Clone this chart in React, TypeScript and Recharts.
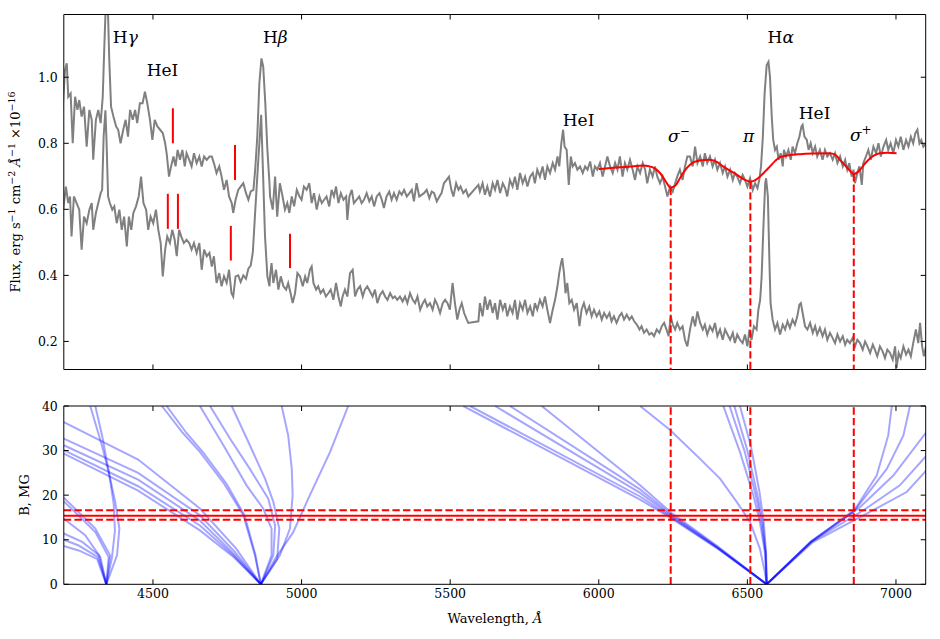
import React from 'react';
import { ComposedChart, Line, XAxis, YAxis, ReferenceLine, Scatter } from 'recharts';

const FONT = '"DejaVu Serif", serif';
const waveDomain = [4200, 7100];
const waveTicks = [4500, 5000, 5500, 6000, 6500, 7000];
const fluxDomain = [0.115, 1.19];
const fluxTicks = [0.2, 0.4, 0.6, 0.8, 1.0];
const fieldTicks = [0, 10, 20, 30, 40];

// upper spectrum, [wavelength, flux]
const upperSpectrum: [number, number][] = [
    [4196, 0.901], [4204, 1.022], [4210, 1.042], [4215, 0.941], [4223, 0.951], [4230, 0.80], [4238, 0.941], [4246, 0.901],
    [4252, 0.931], [4260, 0.881], [4268, 0.911], [4277, 0.790], [4286, 0.901], [4294, 0.871], [4299, 0.750], [4308, 0.871],
    [4316, 0.901], [4324, 0.861], [4331, 0.941], [4336, 1.083], [4342, 1.24], [4348, 1.22], [4353, 1.052], [4359, 0.911],
    [4367, 0.881], [4376, 0.851], [4383, 0.841], [4391, 0.80], [4400, 0.841], [4408, 0.871], [4416, 0.82], [4423, 0.901],
    [4432, 0.871], [4440, 0.901], [4447, 0.861], [4456, 0.921], [4465, 0.921], [4473, 0.956], [4481, 0.921], [4490, 0.871],
    [4498, 0.81], [4506, 0.871], [4515, 0.851], [4524, 0.841], [4533, 0.831], [4541, 0.80], [4546, 0.77], [4554, 0.699],
    [4561, 0.730], [4569, 0.760], [4576, 0.730], [4583, 0.780], [4591, 0.750], [4599, 0.780], [4607, 0.730], [4613, 0.770],
    [4622, 0.750], [4630, 0.730], [4638, 0.770], [4647, 0.740], [4656, 0.760], [4664, 0.730], [4672, 0.760], [4681, 0.750],
    [4690, 0.760], [4698, 0.760], [4705, 0.740], [4714, 0.710], [4723, 0.730], [4731, 0.699], [4739, 0.659], [4748, 0.689],
    [4756, 0.639], [4765, 0.619], [4770, 0.589], [4778, 0.629], [4787, 0.659], [4795, 0.669], [4804, 0.679], [4813, 0.649],
    [4821, 0.629], [4829, 0.654], [4838, 0.659], [4844, 0.720], [4851, 0.820], [4858, 0.982], [4865, 1.057], [4871, 1.032],
    [4878, 0.921], [4885, 0.780], [4892, 0.679], [4894, 0.639], [4903, 0.599], [4911, 0.699], [4918, 0.578], [4927, 0.679],
    [4936, 0.639], [4944, 0.599], [4952, 0.619], [4959, 0.589], [4967, 0.639], [4975, 0.609], [4984, 0.659], [4993, 0.639],
    [5000, 0.629], [5008, 0.669], [5017, 0.659], [5026, 0.679], [5034, 0.619], [5042, 0.649], [5051, 0.599], [5060, 0.639],
    [5068, 0.619], [5076, 0.629], [5084, 0.639], [5093, 0.609], [5101, 0.659], [5109, 0.639], [5116, 0.669], [5124, 0.619],
    [5132, 0.649], [5141, 0.629], [5150, 0.639], [5154, 0.568], [5161, 0.639], [5169, 0.659], [5176, 0.619], [5185, 0.629],
    [5194, 0.639], [5202, 0.619], [5210, 0.629], [5219, 0.649], [5228, 0.624], [5236, 0.639], [5244, 0.609], [5253, 0.639],
    [5262, 0.649], [5270, 0.629], [5277, 0.604], [5286, 0.639], [5295, 0.654], [5303, 0.629], [5311, 0.649], [5320, 0.629],
    [5329, 0.654], [5337, 0.644], [5345, 0.659], [5354, 0.639], [5363, 0.649], [5371, 0.659], [5378, 0.624], [5387, 0.679],
    [5396, 0.639], [5404, 0.644], [5412, 0.649], [5421, 0.659], [5430, 0.634], [5438, 0.654], [5446, 0.649], [5455, 0.624],
    [5464, 0.639], [5471, 0.649], [5479, 0.679], [5488, 0.689], [5496, 0.699], [5504, 0.659], [5511, 0.639], [5520, 0.679],
    [5528, 0.659], [5535, 0.669], [5544, 0.649], [5553, 0.659], [5561, 0.639], [5595, 0.674], [5600, 0.654], [5609, 0.679],
    [5617, 0.644], [5625, 0.669], [5634, 0.639], [5643, 0.679], [5651, 0.659], [5659, 0.689], [5668, 0.649], [5677, 0.679],
    [5685, 0.664], [5692, 0.639], [5701, 0.689], [5710, 0.669], [5718, 0.699], [5726, 0.659], [5735, 0.710], [5744, 0.679],
    [5752, 0.699], [5760, 0.669], [5769, 0.699], [5778, 0.710], [5785, 0.679], [5793, 0.720], [5802, 0.699], [5811, 0.730],
    [5819, 0.689], [5827, 0.730], [5836, 0.710], [5845, 0.740], [5853, 0.720], [5861, 0.760], [5867, 0.730], [5874, 0.80],
    [5880, 0.841], [5885, 0.790], [5892, 0.780], [5899, 0.674], [5906, 0.760], [5912, 0.730], [5920, 0.740], [5928, 0.720],
    [5937, 0.730], [5946, 0.710], [5954, 0.730], [5962, 0.720], [5971, 0.745], [5980, 0.699], [5987, 0.730], [5995, 0.720],
    [6004, 0.740], [6013, 0.699], [6021, 0.730], [6029, 0.760], [6038, 0.730], [6047, 0.710], [6055, 0.740], [6063, 0.720],
    [6071, 0.760], [6080, 0.699], [6088, 0.740], [6096, 0.720], [6105, 0.750], [6114, 0.720], [6122, 0.689], [6130, 0.730],
    [6139, 0.710], [6148, 0.740], [6156, 0.720], [6163, 0.679], [6172, 0.720], [6181, 0.699], [6189, 0.730], [6197, 0.699],
    [6206, 0.679], [6215, 0.699], [6223, 0.669], [6231, 0.639], [6240, 0.669], [6249, 0.654], [6257, 0.679], [6264, 0.699],
    [6273, 0.720], [6282, 0.689], [6290, 0.730], [6298, 0.760], [6307, 0.760], [6316, 0.730], [6324, 0.790], [6332, 0.740],
    [6341, 0.760], [6350, 0.730], [6357, 0.770], [6365, 0.740], [6374, 0.760], [6383, 0.730], [6391, 0.750], [6399, 0.720],
    [6408, 0.740], [6417, 0.710], [6425, 0.730], [6433, 0.699], [6442, 0.720], [6451, 0.689], [6458, 0.710], [6466, 0.699],
    [6475, 0.679], [6484, 0.704], [6492, 0.689], [6500, 0.669], [6509, 0.694], [6518, 0.659], [6526, 0.679], [6534, 0.664],
    [6540, 0.689], [6546, 0.730], [6552, 0.820], [6558, 0.951], [6565, 1.037], [6571, 1.047], [6576, 1.002], [6582, 0.881],
    [6587, 0.810], [6593, 0.780], [6599, 0.790], [6605, 0.750], [6612, 0.770], [6619, 0.730], [6623, 0.780], [6630, 0.760],
    [6638, 0.780], [6646, 0.750], [6652, 0.790], [6660, 0.770], [6668, 0.80], [6675, 0.820], [6682, 0.851], [6686, 0.856],
    [6692, 0.820], [6700, 0.810], [6706, 0.780], [6713, 0.80], [6720, 0.770], [6728, 0.790], [6735, 0.760], [6744, 0.780],
    [6753, 0.750], [6761, 0.780], [6769, 0.760], [6778, 0.770], [6787, 0.750], [6795, 0.770], [6803, 0.740], [6812, 0.760],
    [6821, 0.730], [6829, 0.750], [6836, 0.720], [6843, 0.740], [6851, 0.699], [6857, 0.720], [6862, 0.679], [6870, 0.710],
    [6877, 0.730], [6885, 0.674], [6890, 0.740], [6899, 0.760], [6907, 0.780], [6915, 0.750], [6924, 0.790], [6933, 0.770],
    [6941, 0.80], [6949, 0.760], [6958, 0.790], [6967, 0.810], [6974, 0.780], [6982, 0.80], [6991, 0.770], [7000, 0.810],
    [7008, 0.790], [7016, 0.820], [7025, 0.780], [7034, 0.810], [7042, 0.790], [7050, 0.820], [7058, 0.80], [7065, 0.830],
    [7072, 0.841], [7079, 0.80], [7085, 0.810], [7092, 0.790], [7101, 0.80],
];

// lower spectrum, [wavelength, flux]
const lowerSpectrum: [number, number][] = [
    [4198, 0.599], [4207, 0.669], [4215, 0.619], [4221, 0.639], [4226, 0.518], [4234, 0.639], [4243, 0.619], [4252, 0.599],
    [4260, 0.478], [4268, 0.578], [4277, 0.558], [4286, 0.599], [4294, 0.619], [4299, 0.538], [4308, 0.589], [4316, 0.619],
    [4324, 0.649], [4329, 0.659], [4334, 0.820], [4340, 0.90], [4344, 0.80], [4349, 0.639], [4355, 0.619], [4363, 0.599],
    [4370, 0.609], [4378, 0.558], [4387, 0.599], [4395, 0.538], [4403, 0.578], [4412, 0.488], [4419, 0.578], [4427, 0.538],
    [4434, 0.589], [4443, 0.609], [4452, 0.639], [4460, 0.699], [4468, 0.619], [4477, 0.599], [4484, 0.538], [4492, 0.578],
    [4501, 0.558], [4510, 0.599], [4518, 0.538], [4526, 0.498], [4533, 0.397], [4541, 0.478], [4548, 0.518], [4557, 0.498],
    [4565, 0.538], [4573, 0.508], [4580, 0.458], [4588, 0.538], [4595, 0.518], [4604, 0.498], [4613, 0.508], [4622, 0.498],
    [4630, 0.478], [4638, 0.498], [4647, 0.468], [4656, 0.498], [4664, 0.417], [4672, 0.478], [4681, 0.458], [4690, 0.468],
    [4698, 0.427], [4705, 0.458], [4714, 0.377], [4723, 0.407], [4731, 0.367], [4739, 0.397], [4748, 0.377], [4756, 0.417],
    [4764, 0.347], [4770, 0.336], [4778, 0.397], [4787, 0.40], [4795, 0.38], [4804, 0.40], [4813, 0.39], [4821, 0.42],
    [4829, 0.43], [4836, 0.47], [4843, 0.578], [4851, 0.699], [4858, 0.80], [4864, 0.886], [4870, 0.720], [4877, 0.518],
    [4885, 0.397], [4892, 0.367], [4894, 0.397], [4899, 0.437], [4905, 0.377], [4914, 0.417], [4922, 0.357], [4930, 0.397],
    [4939, 0.367], [4948, 0.357], [4955, 0.377], [4963, 0.346], [4970, 0.316], [4978, 0.346], [4986, 0.407], [4995, 0.397],
    [5004, 0.367], [5012, 0.397], [5019, 0.377], [5028, 0.417], [5034, 0.427], [5040, 0.377], [5049, 0.357], [5056, 0.367],
    [5064, 0.346], [5073, 0.357], [5082, 0.336], [5090, 0.346], [5098, 0.357], [5107, 0.326], [5116, 0.377], [5124, 0.336],
    [5132, 0.306], [5138, 0.336], [5146, 0.357], [5154, 0.336], [5163, 0.407], [5172, 0.417], [5180, 0.336], [5188, 0.357],
    [5197, 0.367], [5206, 0.336], [5213, 0.357], [5221, 0.367], [5230, 0.352], [5239, 0.336], [5247, 0.357], [5255, 0.316],
    [5264, 0.341], [5273, 0.352], [5281, 0.336], [5289, 0.326], [5298, 0.346], [5307, 0.331], [5314, 0.336], [5322, 0.326],
    [5331, 0.336], [5340, 0.321], [5348, 0.336], [5356, 0.316], [5365, 0.346], [5374, 0.326], [5382, 0.316], [5390, 0.336],
    [5399, 0.296], [5408, 0.316], [5415, 0.326], [5423, 0.306], [5432, 0.316], [5441, 0.296], [5449, 0.326], [5457, 0.311],
    [5466, 0.286], [5475, 0.316], [5483, 0.326], [5491, 0.316], [5499, 0.296], [5508, 0.377], [5516, 0.316], [5524, 0.266],
    [5531, 0.296], [5539, 0.316], [5547, 0.286], [5556, 0.266], [5561, 0.256], [5595, 0.261], [5600, 0.316], [5609, 0.276],
    [5617, 0.336], [5625, 0.296], [5634, 0.326], [5643, 0.286], [5651, 0.316], [5659, 0.266], [5668, 0.326], [5677, 0.296],
    [5685, 0.316], [5692, 0.276], [5701, 0.306], [5710, 0.286], [5718, 0.326], [5726, 0.266], [5735, 0.316], [5744, 0.296],
    [5752, 0.326], [5760, 0.286], [5769, 0.306], [5778, 0.276], [5785, 0.316], [5793, 0.296], [5802, 0.326], [5811, 0.306],
    [5819, 0.336], [5827, 0.296], [5836, 0.256], [5845, 0.296], [5853, 0.326], [5861, 0.367], [5867, 0.407], [5873, 0.437],
    [5877, 0.452], [5883, 0.407], [5888, 0.346], [5894, 0.377], [5901, 0.316], [5909, 0.326], [5917, 0.296], [5926, 0.316],
    [5935, 0.246], [5942, 0.296], [5950, 0.316], [5959, 0.286], [5968, 0.306], [5976, 0.276], [5984, 0.296], [5993, 0.276],
    [6002, 0.291], [6010, 0.266], [6018, 0.286], [6027, 0.271], [6036, 0.286], [6043, 0.261], [6051, 0.276], [6060, 0.256],
    [6069, 0.276], [6077, 0.286], [6085, 0.266], [6094, 0.281], [6103, 0.266], [6111, 0.276], [6119, 0.261], [6128, 0.251],
    [6137, 0.236], [6144, 0.246], [6152, 0.226], [6161, 0.236], [6170, 0.221], [6178, 0.226], [6186, 0.216], [6195, 0.236],
    [6204, 0.226], [6212, 0.246], [6220, 0.256], [6228, 0.236], [6235, 0.216], [6242, 0.276], [6249, 0.251], [6257, 0.236],
    [6264, 0.256], [6273, 0.236], [6282, 0.246], [6290, 0.205], [6298, 0.185], [6307, 0.236], [6316, 0.276], [6324, 0.246],
    [6332, 0.291], [6341, 0.256], [6350, 0.236], [6357, 0.251], [6365, 0.221], [6374, 0.246], [6383, 0.231], [6391, 0.256],
    [6399, 0.216], [6408, 0.236], [6417, 0.205], [6425, 0.236], [6433, 0.221], [6442, 0.205], [6451, 0.226], [6458, 0.195],
    [6466, 0.221], [6475, 0.205], [6484, 0.195], [6492, 0.221], [6500, 0.185], [6507, 0.236], [6514, 0.205], [6522, 0.246],
    [6531, 0.236], [6537, 0.296], [6543, 0.326], [6548, 0.397], [6554, 0.548], [6560, 0.679], [6563, 0.694], [6569, 0.639],
    [6574, 0.447], [6578, 0.316], [6585, 0.266], [6593, 0.236], [6601, 0.256], [6610, 0.221], [6619, 0.251], [6627, 0.236],
    [6635, 0.261], [6643, 0.241], [6652, 0.266], [6660, 0.251], [6668, 0.276], [6675, 0.311], [6680, 0.316], [6686, 0.286],
    [6694, 0.246], [6702, 0.236], [6711, 0.256], [6720, 0.226], [6728, 0.246], [6735, 0.221], [6744, 0.241], [6753, 0.216],
    [6761, 0.236], [6769, 0.205], [6778, 0.226], [6787, 0.210], [6795, 0.195], [6803, 0.221], [6812, 0.200], [6821, 0.216],
    [6829, 0.190], [6836, 0.205], [6845, 0.195], [6854, 0.210], [6862, 0.185], [6870, 0.205], [6879, 0.195], [6888, 0.175],
    [6896, 0.200], [6904, 0.185], [6913, 0.165], [6922, 0.190], [6929, 0.175], [6937, 0.155], [6946, 0.185], [6955, 0.170],
    [6963, 0.150], [6971, 0.175], [6980, 0.165], [6989, 0.145], [6997, 0.185], [7002, 0.120], [7009, 0.165], [7016, 0.150],
    [7025, 0.185], [7034, 0.160], [7042, 0.175], [7050, 0.155], [7058, 0.195], [7067, 0.236], [7075, 0.195], [7081, 0.256],
    [7088, 0.185], [7094, 0.155], [7101, 0.185],
];

// red model fit over the upper spectrum
const zeemanFit: [number, number][] = [
    [6000, 0.722], [6050, 0.726], [6100, 0.729], [6150, 0.733], [6180, 0.728], [6206, 0.71], [6225, 0.685], [6242, 0.666],
    [6258, 0.672], [6273, 0.694], [6290, 0.718], [6307, 0.735], [6340, 0.748], [6374, 0.750], [6400, 0.742], [6418, 0.730],
    [6440, 0.718], [6464, 0.705], [6490, 0.690], [6510, 0.684], [6525, 0.688], [6542, 0.699], [6560, 0.715], [6576, 0.73],
    [6593, 0.746], [6610, 0.758], [6640, 0.764], [6677, 0.767], [6720, 0.769], [6778, 0.770], [6800, 0.762], [6811, 0.75],
    [6825, 0.737], [6840, 0.722], [6858, 0.707], [6870, 0.712], [6879, 0.72], [6895, 0.738], [6913, 0.755], [6930, 0.765],
    [6946, 0.770], [6970, 0.771], [7002, 0.770],
];

// Zeeman components: wavelength and fitted depth
const componentWaves = [6242, 6510, 6858];
const componentDepths = [0.666, 0.684, 0.707];

// short red markers: wavelength, flux bottom, flux top
const markerWaves = [4567, 4776, 4550, 4584, 4762, 4961];
const markerLows = [0.80, 0.689, 0.541, 0.541, 0.445, 0.422];
const markerHighs = [0.906, 0.795, 0.647, 0.647, 0.550, 0.526];

// line identifications
const lineLabels = [
    { x: 4365, y: 1.103, main: 'H', greek: 'γ', sup: '' },
    { x: 4479, y: 1.004, main: 'HeI', greek: '', sup: '' },
    { x: 4870, y: 1.103, main: 'H', greek: 'β', sup: '' },
    { x: 5879, y: 0.853, main: 'HeI', greek: '', sup: '' },
    { x: 6233, y: 0.805, main: '', greek: 'σ', sup: '−' },
    { x: 6485, y: 0.803, main: '', greek: 'π', sup: '' },
    { x: 6568, y: 1.103, main: 'H', greek: 'α', sup: '' },
    { x: 6673, y: 0.873, main: 'HeI', greek: '', sup: '' },
    { x: 6845, y: 0.807, main: '', greek: 'σ', sup: '+' },
];

// field strength band
const fieldBest = 15.4;
const fieldLow = 14.5;
const fieldHigh = 16.6;

// hydrogen Zeeman tracks, [wavelength, B in MG]
const hGammaTracks: [number, number][][] = [
    [[4343, 0], [4312, 5.7], [4250, 7.6], [4200, 8.6]],
    [[4343, 0], [4315, 6.1], [4250, 8.7], [4200, 10.0]],
    [[4343, 0], [4318, 6.5], [4262, 9.5], [4200, 11.4]],
    [[4343, 0], [4323, 6.1], [4272, 11.0], [4200, 14.7]],
    [[4343, 0], [4356, 6.5], [4306, 12.5], [4250, 16.2], [4200, 19.4]],
    [[4343, 0], [4351, 6.1], [4306, 11.7], [4261, 14.7], [4200, 18.6]],
    [[4343, 0], [4379, 6.5], [4387, 12.5], [4373, 18.5], [4351, 25.2], [4328, 31.2], [4289, 40]],
    [[4343, 0], [4362, 6], [4372, 12], [4368, 18], [4352, 25], [4330, 33], [4306, 40]],
];

const hBetaTracks: [number, number][][] = [
    [[4863, 0], [4770, 6.2], [4658, 12.1], [4450, 21], [4200, 29.3]],
    [[4863, 0], [4770, 6.5], [4658, 13.2], [4450, 22], [4200, 30.1]],
    [[4863, 0], [4772, 6.8], [4658, 14.3], [4450, 23.5], [4200, 31.2]],
    [[4863, 0], [4775, 7.3], [4658, 15.5], [4450, 25], [4200, 32.7]],
    [[4863, 0], [4780, 8], [4658, 17], [4450, 28], [4200, 36.4]],
    [[4863, 0], [4843, 6.5], [4804, 15.5], [4740, 22.5], [4658, 29.7], [4600, 34], [4530, 40]],
    [[4863, 0], [4845, 6.5], [4808, 15.5], [4748, 22.5], [4670, 29.5], [4612, 34], [4546, 40]],
    [[4863, 0], [4899, 6.5], [4899, 12.5], [4871, 17], [4815, 22.2], [4737, 31.2], [4658, 40]],
    [[4863, 0], [4905, 6.5], [4911, 13.2], [4888, 19.2], [4826, 25.9], [4759, 32.7], [4692, 40]],
    [[4863, 0], [4918, 5.7], [4925, 12.5], [4905, 18.5], [4877, 23.7], [4826, 31.2], [4765, 40]],
    [[4863, 0], [4927, 6.5], [4961, 12.5], [4970, 20], [4967, 25.9], [4955, 33.4], [4933, 40]],
    [[4863, 0], [4911, 5.7], [4972, 11.7], [5028, 20], [5096, 29.7], [5157, 40]],
];

const hAlphaTracks: [number, number][][] = [
    [[6565, 0], [6400, 8.0], [6245, 14.8], [6139, 19.0], [5544, 40]],
    [[6565, 0], [6400, 8.1], [6245, 15.0], [6139, 19.7], [5567, 40]],
    [[6565, 0], [6400, 8.2], [6245, 15.3], [6139, 20.5], [5651, 40]],
    [[6565, 0], [6400, 8.3], [6245, 15.6], [6139, 21.3], [5701, 40]],
    [[6565, 0], [6400, 8.5], [6245, 16.0], [6139, 22.2], [5808, 40]],
    [[6565, 0], [6558, 3], [6542, 8], [6509, 14], [6464, 18.5], [6408, 23.7], [6340, 28.2], [6240, 34.6], [6139, 40]],
    [[6565, 0], [6559, 7.2], [6542, 14], [6520, 20], [6475, 29.7], [6419, 40]],
    [[6565, 0], [6561, 7], [6547, 14], [6528, 20], [6490, 30], [6440, 40]],
    [[6565, 0], [6562, 7], [6551, 14], [6534, 20], [6500, 30], [6456, 40]],
    [[6565, 0], [6563, 7], [6555, 14], [6540, 21], [6512, 31], [6475, 40]],
    [[6565, 0], [6711, 9.3], [6856, 16.2], [6935, 24.4], [6974, 33.4], [6986, 40]],
    [[6565, 0], [6713, 9.5], [6866, 17], [6969, 25.9], [7025, 33.4], [7047, 40]],
    [[6565, 0], [6715, 9.7], [6877, 17.2], [6991, 24.4], [7103, 34.2]],
    [[6565, 0], [6717, 9.6], [6888, 16.5], [7013, 22.2], [7103, 28.9]],
    [[6565, 0], [6719, 9.4], [6900, 15.8], [7036, 20.7], [7103, 25.6]],
];

const toPts = (arr: [number, number][]) => arr.map(([x, y]) => ({ x, y }));

const TICK = 5;
const tickText = { fontFamily: FONT, fontSize: 12.5, fill: '#000' };

// ticks point inwards, like matplotlib's classic style
const bottomTick = (labels: boolean) => (props: any) => {
    const { x, y, payload } = props;
    return (
        <g>
            <line x1={x} y1={y} x2={x} y2={y - TICK} stroke="#000" />
            {labels && <text x={x} y={y + 14} textAnchor="middle" {...tickText}>{payload.value}</text>}
        </g>
    );
};
const topTick = (props: any) => {
    const { x, y } = props;
    return <line x1={x} y1={y} x2={x} y2={y + TICK} stroke="#000" />;
};
const leftTick = (fmt: (v: number) => string) => (props: any) => {
    const { x, y, payload } = props;
    return (
        <g>
            <line x1={x} y1={y} x2={x + TICK} y2={y} stroke="#000" />
            <text x={x - 6} y={y + 4.5} textAnchor="end" {...tickText}>{fmt(payload.value)}</text>
        </g>
    );
};
const rightTick = (props: any) => {
    const { x, y } = props;
    return <line x1={x} y1={y} x2={x - TICK} y2={y} stroke="#000" />;
};

const LabelShape = (props: any) => {
    const { cx, cy, payload } = props;
    return (
        <text x={cx} y={cy} fontFamily={FONT} fontSize={17} fill="#000">
            {payload.main && <tspan>{payload.main}</tspan>}
            {payload.greek && <tspan fontStyle="italic">{payload.greek}</tspan>}
            {payload.sup && <tspan dy={-7} fontSize={12}>{payload.sup}</tspan>}
        </text>
    );
};

const axisLine = { stroke: '#000', strokeWidth: 1 };

// axes are 1px thick, so the margins below are one pixel short of the plot edges
const Frame = (yTicks: number[], yDomain: number[], fmt: (v: number) => string, xLabels: boolean) => [
    <XAxis key="xb" xAxisId={0} dataKey="x" type="number" domain={waveDomain} allowDataOverflow ticks={waveTicks}
        interval={0} height={1} tickSize={0} tickMargin={0} tickLine={false} axisLine={axisLine} tick={bottomTick(xLabels)} />,
    <XAxis key="xt" xAxisId="top" orientation="top" dataKey="x" type="number" domain={waveDomain} allowDataOverflow
        ticks={waveTicks} interval={0} height={1} tickSize={0} tickMargin={0} tickLine={false} axisLine={axisLine} tick={topTick} />,
    <YAxis key="yl" yAxisId={0} dataKey="y" type="number" domain={yDomain} allowDataOverflow ticks={yTicks} interval={0}
        width={1} tickSize={0} tickMargin={0} tickLine={false} axisLine={axisLine} tick={leftTick(fmt)} />,
    <YAxis key="yr" yAxisId="right" orientation="right" dataKey="y" type="number" domain={yDomain} allowDataOverflow
        ticks={yTicks} interval={0} width={1} tickSize={0} tickMargin={0} tickLine={false} axisLine={axisLine} tick={rightTick} />,
];

const dash = '7.4 3.2';

export default function App() {
    return (
        <div style={{ position: 'absolute', left: 0, top: 0, width: 940, height: 639, background: '#fff' }}>
            <div style={{ position: 'absolute', left: 0, top: 0 }}>
                <ComposedChart width={940} height={380} margin={{ top: 13.5, right: 13.3, bottom: 9.5, left: 62.8 }}>
                    {Frame(fluxTicks, fluxDomain, (v) => v.toFixed(1), false)}
                    <Line data={toPts(upperSpectrum)} dataKey="y" stroke="#808080" strokeWidth={2} dot={false}
                        isAnimationActive={false} />
                    <Line data={toPts(lowerSpectrum)} dataKey="y" stroke="#808080" strokeWidth={2} dot={false}
                        isAnimationActive={false} />
                    <Line data={toPts(zeemanFit)} dataKey="y" stroke="#ff0000" strokeWidth={2} dot={false}
                        isAnimationActive={false} type="monotone" />
                    {componentWaves.map((w, i) => (
                        <ReferenceLine key={`c${i}`} segment={[{ x: w, y: componentDepths[i] }, { x: w, y: fluxDomain[0] }]}
                            stroke="#ff0000" strokeWidth={2} strokeDasharray={dash} />
                    ))}
                    {markerWaves.map((w, i) => (
                        <ReferenceLine key={`m${i}`} segment={[{ x: w, y: markerLows[i] }, { x: w, y: markerHighs[i] }]}
                            stroke="#ff0000" strokeWidth={2} />
                    ))}
                    <Scatter data={lineLabels} dataKey="y" shape={LabelShape} isAnimationActive={false} />
                </ComposedChart>
            </div>
            <div style={{ position: 'absolute', left: 0, top: 390 }}>
                <ComposedChart width={940} height={249} margin={{ top: 15, right: 13.3, bottom: 53.7, left: 62.8 }}>
                    {Frame(fieldTicks, [0, 40], (v) => String(v), true)}
                    {[...hGammaTracks, ...hBetaTracks, ...hAlphaTracks].map((t, i) => (
                        <Line key={`t${i}`} data={toPts(t)} dataKey="y" stroke="#0000ff" strokeOpacity={0.35}
                            strokeWidth={2} dot={false} isAnimationActive={false} />
                    ))}
                    <ReferenceLine y={fieldBest} stroke="#ff0000" strokeWidth={2} />
                    <ReferenceLine y={fieldLow} stroke="#ff0000" strokeWidth={2} strokeDasharray={dash} />
                    <ReferenceLine y={fieldHigh} stroke="#ff0000" strokeWidth={2} strokeDasharray={dash} />
                    {componentWaves.map((w, i) => (
                        <ReferenceLine key={`v${i}`} x={w} stroke="#ff0000" strokeWidth={2} strokeDasharray={dash} />
                    ))}
                </ComposedChart>
            </div>
            <svg width={940} height={639} style={{ position: 'absolute', left: 0, top: 0, pointerEvents: 'none' }}>
                <text transform="translate(20,192) rotate(-90)" textAnchor="middle" fontFamily={FONT} fontSize={13}>
                    <tspan>Flux, erg s</tspan><tspan dy={-5} fontSize={9.5}>−1</tspan>
                    <tspan dy={5}> cm</tspan><tspan dy={-5} fontSize={9.5}>−2</tspan>
                    <tspan dy={5}> </tspan><tspan fontStyle="italic">Å</tspan><tspan dy={-5} fontSize={9.5}>−1</tspan>
                    <tspan dy={5}> ×10</tspan><tspan dy={-5} fontSize={9.5}>−16</tspan>
                </text>
                <text transform="translate(29,495) rotate(-90)" textAnchor="middle" fontFamily={FONT} fontSize={13}>B, MG</text>
                <text x={495} y={623} textAnchor="middle" fontFamily={FONT} fontSize={13}>
                    Wavelength, <tspan fontStyle="italic">Å</tspan>
                </text>
            </svg>
        </div>
    );
}
